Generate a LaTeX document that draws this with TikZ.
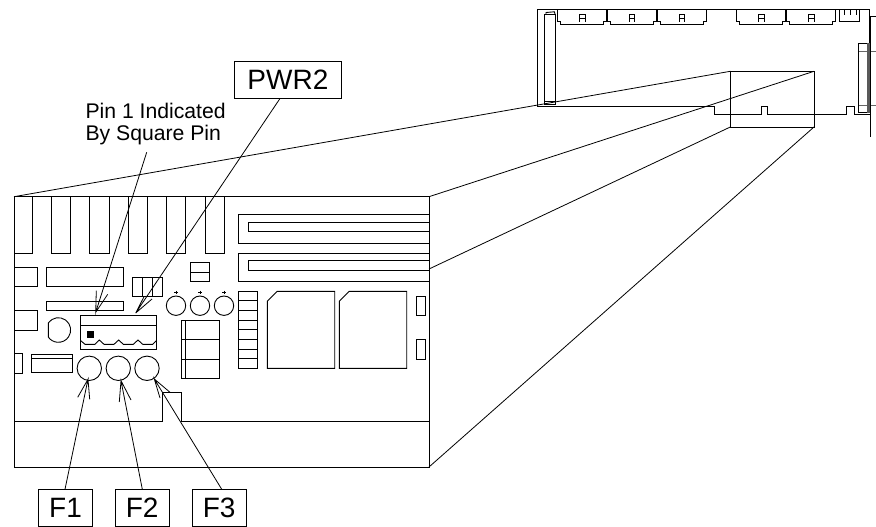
\documentclass[tikz,border=0pt]{standalone}
\usepackage{fontspec}
\setmainfont{Liberation Sans}
\tikzset{
  x=1pt,y=-1pt,
  ln/.style={draw=black,line width=0.9pt,line join=miter},
  labelbox/.style={draw=black,line width=0.9pt,fill=white,inner sep=0pt},
  lead/.style={line width=0.8pt},
}
\newcommand{\slotbox}[4]{\draw[ln] (#1,#2) rectangle (#3,#4);}
\newcommand{\uppart}[1]{%
  \draw[ln] (#1,9.3) -- (#1,21.7) -- (#1+2.7,21.7) -- (#1+2.7,24.3) -- (#1+46,24.3) -- (#1+46,21.7) -- (#1+49,21.7) -- (#1+49,9.3);
  \draw[ln] (#1+22,21.7) -- (#1+22,14.5) -- (#1+27.5,14.5) -- (#1+27.5,21.7);
  \draw[ln] (#1+22,18) -- (#1+27.5,18);
}
\begin{document}
\begin{tikzpicture}
\useasboundingbox (0,0) rectangle (876,527);
\fill[white] (0,0) rectangle (876,527);
% --- overview board ---
\draw[ln] (870.7,16) -- (876,16);
\draw[ln,black!60] (858.3,51) -- (876,51);
\draw[ln,black!60] (858.3,105) -- (876,105);
\draw[ln] (870.7,16) -- (870.7,136.7);
\draw[ln] (870,114.3) -- (854,114.3) -- (854,106.5) -- (846,106.5) -- (846,114.3) -- (767.3,114.3) -- (767.3,106.5) -- (761.7,106.5) -- (761.7,114.3) -- (714.3,114.3) -- (714.3,106.7) -- (537,106.7) -- (537,9) -- (869.5,9) -- (869.5,43.3);
\draw[ln] (544.3,14.3) rectangle (555,104);
\draw[ln] (546,14.3) -- (546,12.5) -- (554.5,11.8) -- (555,14.3);
\draw[ln] (544.3,101.7) -- (555,101.7);
\uppart{557.7}\uppart{607.3}\uppart{657.3}\uppart{736.7}\uppart{786.7}
\draw[ln] (839,9.3) -- (839,21.7) -- (859.5,21.7) -- (859.5,9.3);
\draw[ln] (844,10) -- (844,15) (850,10) -- (850,15) (856,10) -- (856,15);
\draw[ln] (858.3,43.3) rectangle (869,112.7);
\fill[black!65] (867.3,43.3) rectangle (869.8,112.7);
% --- zoom window and projection ---
\draw[ln] (730.3,71.3) rectangle (814,127);
\draw[lead] (730.3,71.3) -- (14,196.7);
\draw[lead] (814,71.3) -- (429,196.7);
\draw[lead] (730.3,127) -- (429,269);
\draw[lead] (814,127) -- (429,467);
% --- enlarged board ---
\draw[ln] (14,196.7) rectangle (429,467);
\draw[ln] (14,421) -- (162,421) -- (162,392) -- (181,392) -- (181,421) -- (429,421);
\foreach \a/\b in {14/32.3,51.3/70.3,89.7/109,128.3/147.3,166.7/185.7,205/224.3}
  \draw[ln] (\a,196.7) -- (\a,253) -- (\b,253) -- (\b,196.7);
\slotbox{14}{267.3}{37.3}{286.7}
\slotbox{46.3}{267.3}{123.3}{286.7}
\slotbox{46.3}{301}{123.3}{310.7}
\slotbox{14}{310.7}{37.3}{330}
\draw[ln] (48.3,322.95) arc[start angle=215,end angle=505,radius=12.3] -- cycle;
\slotbox{14}{353.7}{22.7}{373}
\slotbox{31.3}{354.3}{72.3}{372.3}
\draw[ln] (31.3,358.3) -- (72.3,358.3);
\foreach \a in {89.3,118.3,147} \draw[ln] (\a,368.3) circle[radius=12.2];
% PWR2 connector
\slotbox{80}{315.7}{156.7}{349.3}
\draw[ln] (80,325.3) -- (156.7,325.3);
\fill[black] (87,330.7) rectangle (94,338);
\draw[ln] (80.3,340.3) -- (85,344.3) -- (95,344.3) -- (99.3,340) -- (104,344.3) -- (114,344.3) -- (118.7,340) -- (123.3,344.3) -- (133.3,344.3) -- (138,340) -- (142.7,344.3) -- (152.7,344.3) -- (156.7,340.3);
\slotbox{132.7}{277.3}{162}{296.7}
\draw[ln] (142.7,277.3) -- (142.7,296.7) (152.3,277.3) -- (152.3,296.7);
\slotbox{190.3}{262.3}{209.7}{281.7}
\draw[ln] (190.3,272) -- (209.7,272);
\foreach \a in {176,200,224} {
  \draw[ln] (\a,305.7) circle[radius=9.7];
  \draw[line width=0.6pt] (\a-1.6,292.3) -- (\a+1.6,292.3) (\a,290.7) -- (\a,293.9);
}
\slotbox{181}{320.3}{219.7}{378}
\draw[ln] (185.7,320.3) -- (185.7,378);
\draw[ln] (181,339.7) -- (219.7,339.7) (181,359) -- (219.7,359);
\draw[ln] (238.3,214.3) -- (429,214.3) (238.3,214.3) -- (238.3,243.3) -- (429,243.3);
\draw[ln] (429,222) -- (248,222) -- (248,231.3) -- (429,231.3);
\draw[ln] (238.3,253) -- (429,253) (238.3,253) -- (238.3,281.7) -- (429,281.7);
\draw[ln] (429,260.3) -- (248,260.3) -- (248,270) -- (429,270);
\slotbox{238.3}{291.3}{257.7}{368.3}
\foreach \k in {1,...,7} \draw[ln] (238.3,291.3+9.63*\k) -- (257.7,291.3+9.63*\k);
\draw[ln] (277.3,291.3) -- (334.7,291.3) -- (334.7,368.3) -- (267.3,368.3) -- (267.3,301.3) -- cycle;
\draw[ln] (349.3,291.3) -- (406.7,291.3) -- (406.7,368.3) -- (339.3,368.3) -- (339.3,301.3) -- cycle;
\slotbox{416}{296.3}{425.7}{315.7}
\slotbox{416}{339.7}{425.7}{359}
% --- labels ---
\node[anchor=base west,inner sep=0pt,font=\fontsize{21.2}{21}\selectfont] (pintext) at (85.3,118.3) {Pin 1 Indicated};
\node[anchor=base west,inner sep=0pt,font=\fontsize{21.2}{21}\selectfont] (pintextb) at (85.3,140) {By Square Pin};
\node[labelbox,minimum width=106.3pt,minimum height=36.3pt,anchor=center,font=\fontsize{28}{28}\selectfont] (pwr) at (287.9,79.9) {PWR2};
\node[labelbox,minimum width=53.6pt,minimum height=36.6pt,anchor=center,font=\fontsize{28}{28}\selectfont] (f1) at (65.5,508) {F1};
\node[labelbox,minimum width=53.6pt,minimum height=36.6pt,anchor=center,font=\fontsize{28}{28}\selectfont] (f2) at (142.2,508) {F2};
\node[labelbox,minimum width=53.6pt,minimum height=36.6pt,anchor=center,font=\fontsize{28}{28}\selectfont] (f3) at (219.2,508) {F3};
% --- leaders with open arrowheads ---
\coordinate (pinfrom) at (146.7,152.3);
\coordinate (pintip) at (95.7,312.3);
\draw[lead] (pinfrom) -- (pintip) -- (96.3,290.7) (pintip) -- (107.7,294.3);
\coordinate (pwrfrom) at (pwr.south -| 280,0);
\coordinate (pwrtip) at (135.7,313);
\draw[lead] (pwrfrom) -- (pwrtip) -- (144,296.7) (pwrtip) -- (152,299);
\coordinate (f1from) at (f1.north -| 65,0);
\coordinate (f1tip) at (88,379.3);
\draw[lead] (f1from) -- (f1tip) -- (77.7,397.3) (f1tip) -- (89.7,399.3);
\coordinate (f2from) at (f2.north -| 142.3,0);
\coordinate (f2tip) at (121,380.7);
\draw[lead] (f2from) -- (f2tip) -- (119.3,402) (f2tip) -- (131,400);
\coordinate (f3from) at (f3.north -| 221.7,0);
\coordinate (f3tip) at (154.3,379);
\draw[lead] (f3from) -- (f3tip) -- (160,398) (f3tip) -- (170,392.3);
\end{tikzpicture}
\end{document}
